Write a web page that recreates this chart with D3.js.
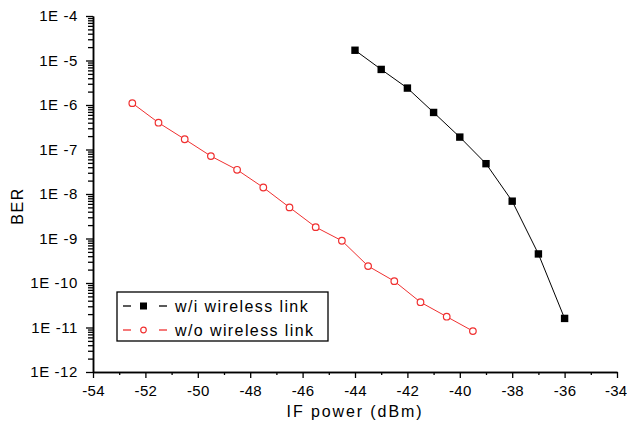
<!DOCTYPE html>
<html>
<head>
<meta charset="utf-8">
<script src="https://cdn.jsdelivr.net/npm/d3@7"></script>
<style>
  body { margin: 0; background: #fff; }
  text { font-family: "Liberation Sans", Arial, sans-serif; fill: #000; }
</style>
</head>
<body>
<div id="chart"></div>
<script>
// Data
const xTicks = [-54, -52, -50, -48, -46, -44, -42, -40, -38, -36, -34];
const yExponents = [-12, -11, -10, -9, -8, -7, -6, -5, -4];

const wiPower = [-44, -43, -42, -41, -40, -39, -38, -37, -36];
const wiBer = [1.7e-5, 6.3e-6, 2.4e-6, 6.8e-7, 1.9e-7, 4.8e-8, 6.9e-9, 4.5e-10, 1.6e-11];

const woPower = [-52.5, -51.5, -50.5, -49.5, -48.5, -47.5, -46.5, -45.5, -44.5, -43.5, -42.5, -41.5, -40.5, -39.5];
const woBer = [1.1e-6, 4.0e-7, 1.7e-7, 7.1e-8, 3.5e-8, 1.4e-8, 5.0e-9, 1.8e-9, 8.9e-10, 2.4e-10, 1.1e-10, 3.7e-11, 1.75e-11, 8.3e-12];

const seriesNames = ["w/i wireless link", "w/o wireless link"];

const width = 627, height = 428;
const plot = { left: 93, right: 617, top: 16, bottom: 372 };

const svg = d3.select("#chart")
  .append("svg")
  .attr("width", width)
  .attr("height", height);

const x = d3.scaleLinear().domain([-54, -34]).range([plot.left, plot.right]);
const y = d3.scaleLog().domain([1e-12, 1e-4]).range([plot.bottom, plot.top]);

// minor ticks
const xMinor = d3.range(-53, -34, 2);
const yMinor = [];
yExponents.slice(0, -1).forEach(e => {
  for (let m = 2; m <= 9; m++) yMinor.push(m * Math.pow(10, e));
});

// x axis (minor + major in separate groups)
svg.append("g").attr("transform", `translate(0,${plot.bottom})`)
  .call(d3.axisBottom(x).tickValues(xMinor).tickSize(3).tickSizeOuter(0).tickFormat(""));
const xAxis = svg.append("g").attr("transform", `translate(0,${plot.bottom})`)
  .call(d3.axisBottom(x).tickValues(xTicks).tickSize(6).tickSizeOuter(0).tickFormat(d3.format("d")));
xAxis.selectAll("text")
  .attr("font-size", 15).attr("letter-spacing", 0.3)
  .attr("dy", "1.0em").text(d => d < 0 ? "-" + Math.abs(d) : d);
xAxis.selectAll(".tick text").filter(d => d === -34).attr("text-anchor", "end").attr("dx", 10);

// y axis
svg.append("g").attr("transform", `translate(${plot.left},0)`)
  .call(d3.axisLeft(y).tickValues(yMinor).tickSize(5).tickSizeOuter(0).tickFormat(""));
const yAxis = svg.append("g").attr("transform", `translate(${plot.left},0)`)
  .call(d3.axisLeft(y).tickValues(yExponents.map(e => Math.pow(10, e))).tickSize(7).tickSizeOuter(0)
    .tickFormat(d => "1E -" + Math.round(-Math.log10(d))));
yAxis.selectAll("text").attr("font-size", 15).attr("letter-spacing", 0.6).attr("x", -15);

svg.selectAll(".domain").attr("stroke", "#000").attr("stroke-width", 1.5);
svg.selectAll(".tick line").attr("stroke", "#000").attr("stroke-width", 1.3);

// axis titles
svg.append("text")
  .attr("x", (plot.left + plot.right) / 2)
  .attr("y", 417)
  .attr("text-anchor", "middle")
  .attr("font-size", 16)
  .attr("letter-spacing", 1.9)
  .text("IF power (dBm)");

svg.append("text")
  .attr("transform", `translate(23,206) rotate(-90)`)
  .attr("text-anchor", "middle")
  .attr("font-size", 16)
  .attr("letter-spacing", 1.5)
  .text("BER");

// series
const line = d3.line().x(d => x(d[0])).y(d => y(d[1]));
const wi = wiPower.map((p, i) => [p, wiBer[i]]);
const wo = woPower.map((p, i) => [p, woBer[i]]);

svg.append("path").datum(wo).attr("d", line)
  .attr("fill", "none").attr("stroke", "#f03030").attr("stroke-width", 1);
svg.selectAll(".wo").data(wo).join("circle")
  .attr("class", "wo")
  .attr("cx", d => x(d[0])).attr("cy", d => y(d[1])).attr("r", 3.3)
  .attr("fill", "#fff").attr("stroke", "#f03030").attr("stroke-width", 1.2);

svg.append("path").datum(wi).attr("d", line)
  .attr("fill", "none").attr("stroke", "#000").attr("stroke-width", 1);
svg.selectAll(".wi").data(wi).join("rect")
  .attr("class", "wi")
  .attr("x", d => x(d[0]) - 3.7).attr("y", d => y(d[1]) - 3.7)
  .attr("width", 7.4).attr("height", 7.4)
  .attr("fill", "#000");

// legend
const legend = svg.append("g").attr("transform", "translate(117,292)");
legend.append("rect")
  .attr("width", 211).attr("height", 49)
  .attr("fill", "#fff").attr("stroke", "#000").attr("stroke-width", 1.3);

const legendColors = ["#000", "#f03030"];
seriesNames.forEach((name, i) => {
  const row = legend.append("g").attr("transform", `translate(0,${14 + i * 24})`);
  row.append("line").attr("x1", 6).attr("x2", 14).attr("stroke", legendColors[i]).attr("stroke-width", 1.3);
  row.append("line").attr("x1", 42).attr("x2", 50).attr("stroke", legendColors[i]).attr("stroke-width", 1.3);
  if (i === 0) {
    row.append("rect").attr("x", 23).attr("y", -3.5).attr("width", 7).attr("height", 7).attr("fill", "#000");
  } else {
    row.append("circle").attr("cx", 26.5).attr("r", 2.8).attr("fill", "#fff")
      .attr("stroke", legendColors[i]).attr("stroke-width", 1.2);
  }
  row.append("text").attr("x", 58).attr("y", 6).attr("font-size", 16)
    .attr("letter-spacing", 1.4)
    .text(name);
});
</script>
</body>
</html>
